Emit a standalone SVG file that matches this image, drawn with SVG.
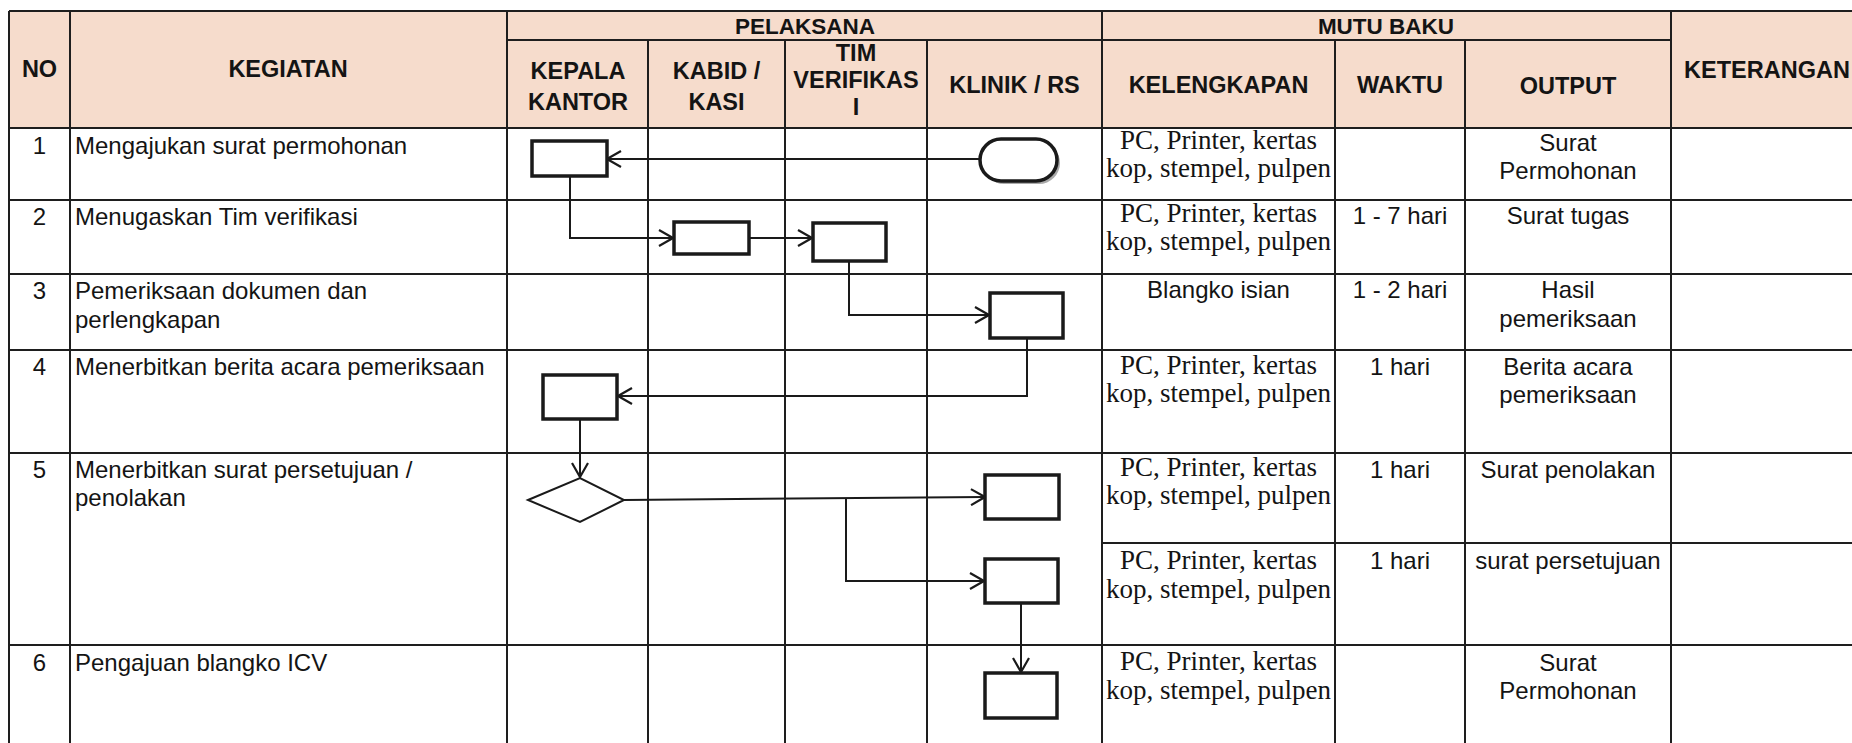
<svg xmlns="http://www.w3.org/2000/svg" width="1852" height="743" viewBox="0 0 1852 743">
<style>
.grid{stroke:#1e1e1e;stroke-width:2;fill:none}
.h{font-family:"Liberation Sans",Arial,sans-serif;font-weight:bold;font-size:23.5px;fill:#141414;text-anchor:middle}
.h2{font-size:22.5px}
.t{font-family:"Liberation Sans",Arial,sans-serif;font-size:24px;fill:#141414}
.c{text-anchor:middle}
.s{font-family:"Liberation Serif","Times New Roman",serif;font-size:27px;fill:#141414;text-anchor:middle}
.box{fill:#fff;stroke:#1a1a1a;stroke-width:3.5}
.con{fill:none;stroke:#1a1a1a;stroke-width:2}
</style>
<defs>
<marker id="arr" viewBox="0 0 16 18" refX="15" refY="9" markerWidth="16" markerHeight="18" markerUnits="userSpaceOnUse" orient="auto">
<path d="M1,1 L15,9 L1,17" fill="none" stroke="#1a1a1a" stroke-width="2.2"/>
</marker>
</defs>
<rect width="1852" height="743" fill="#fff"/>
<rect x="9" y="11" width="1871" height="117" fill="#f6dccc"/>
<g id="grid" class="grid">
<path d="M9,11H1880M507,40H1671M9,128H1880M9,200H1880M9,274H1880M9,350H1880M9,453H1880M1102,543H1880M9,645H1880"/>
<path d="M9,11V743M70,11V743M507,11V743M648,40V743M785,40V743M927,40V743M1102,11V743M1335,40V743M1465,40V743M1671,11V743"/>
</g>
<g id="header">
<text class="h" x="39.5" y="77">NO</text>
<text class="h" x="288" y="77">KEGIATAN</text>
<text class="h h2" x="805" y="34">PELAKSANA</text>
<text class="h h2" x="1386" y="34">MUTU BAKU</text>
<text class="h" x="578" y="79">KEPALA</text>
<text class="h" x="578" y="110">KANTOR</text>
<text class="h" x="716.5" y="79">KABID /</text>
<text class="h" x="716.5" y="110">KASI</text>
<text class="h" x="856" y="61">TIM</text>
<text class="h" x="856" y="88">VERIFIKAS</text>
<text class="h" x="856" y="115">I</text>
<text class="h" x="1014.5" y="93">KLINIK / RS</text>
<text class="h" x="1218.5" y="93">KELENGKAPAN</text>
<text class="h" x="1400" y="93">WAKTU</text>
<text class="h" x="1568" y="94">OUTPUT</text>
<text class="h" x="1767" y="78">KETERANGAN</text>
</g>
<g id="row1">
<text class="t c" x="39.5" y="154">1</text>
<text class="t" x="75" y="154">Mengajukan surat permohonan</text>
<text class="s" x="1218.5" y="149">PC, Printer, kertas</text>
<text class="s" x="1218.5" y="177">kop, stempel, pulpen</text>
<text class="t c" x="1568" y="151">Surat</text>
<text class="t c" x="1568" y="179">Permohonan</text>
</g>
<g id="row2">
<text class="t c" x="39.5" y="225">2</text>
<text class="t" x="75" y="225">Menugaskan Tim verifikasi</text>
<text class="s" x="1218.5" y="222">PC, Printer, kertas</text>
<text class="s" x="1218.5" y="250">kop, stempel, pulpen</text>
<text class="t c" x="1400" y="224">1 - 7 hari</text>
<text class="t c" x="1568" y="224">Surat tugas</text>
</g>
<g id="row3">
<text class="t c" x="39.5" y="299">3</text>
<text class="t" x="75" y="299">Pemeriksaan dokumen dan</text>
<text class="t" x="75" y="328">perlengkapan</text>
<text class="t c" x="1218.5" y="298">Blangko isian</text>
<text class="t c" x="1400" y="298">1 - 2 hari</text>
<text class="t c" x="1568" y="298">Hasil</text>
<text class="t c" x="1568" y="327">pemeriksaan</text>
</g>
<g id="row4">
<text class="t c" x="39.5" y="375">4</text>
<text class="t" x="75" y="375">Menerbitkan berita acara pemeriksaan</text>
<text class="s" x="1218.5" y="374">PC, Printer, kertas</text>
<text class="s" x="1218.5" y="402">kop, stempel, pulpen</text>
<text class="t c" x="1400" y="375">1 hari</text>
<text class="t c" x="1568" y="375">Berita acara</text>
<text class="t c" x="1568" y="403">pemeriksaan</text>
</g>
<g id="row5">
<text class="t c" x="39.5" y="478">5</text>
<text class="t" x="75" y="478">Menerbitkan surat persetujuan /</text>
<text class="t" x="75" y="506">penolakan</text>
<text class="s" x="1218.5" y="476">PC, Printer, kertas</text>
<text class="s" x="1218.5" y="504">kop, stempel, pulpen</text>
<text class="t c" x="1400" y="478">1 hari</text>
<text class="t c" x="1568" y="478">Surat penolakan</text>
<text class="s" x="1218.5" y="569">PC, Printer, kertas</text>
<text class="s" x="1218.5" y="598">kop, stempel, pulpen</text>
<text class="t c" x="1400" y="569">1 hari</text>
<text class="t c" x="1568" y="569">surat persetujuan</text>
</g>
<g id="row6">
<text class="t c" x="39.5" y="671">6</text>
<text class="t" x="75" y="671">Pengajuan blangko ICV</text>
<text class="s" x="1218.5" y="670">PC, Printer, kertas</text>
<text class="s" x="1218.5" y="699">kop, stempel, pulpen</text>
<text class="t c" x="1568" y="671">Surat</text>
<text class="t c" x="1568" y="699">Permohonan</text>
</g>
<g id="connectors" class="con">
<path d="M980,159H607" marker-end="url(#arr)"/>
<path d="M570,176V238H673" marker-end="url(#arr)"/>
<path d="M749,238H812" marker-end="url(#arr)"/>
<path d="M849,261V315H989" marker-end="url(#arr)"/>
<path d="M1027,338V396H618" marker-end="url(#arr)"/>
<path d="M580,419V477" marker-end="url(#arr)"/>
<path d="M624,500L985,497" marker-end="url(#arr)"/>
<path d="M846,499V581H984" marker-end="url(#arr)"/>
<path d="M1021,603V672" marker-end="url(#arr)"/>
</g>
<g id="n1a"><rect class="box" x="532" y="141" width="75" height="35"/></g>
<g id="n1b"><rect x="983" y="142" width="77" height="42" rx="21" fill="#555" opacity="0.5"/><rect class="box" x="980" y="139" width="77" height="42" rx="21"/></g>
<g id="n2a"><rect class="box" x="674" y="222" width="75" height="32"/></g>
<g id="n2b"><rect class="box" x="813" y="223" width="73" height="38"/></g>
<g id="n3"><rect class="box" x="990" y="293" width="73" height="45"/></g>
<g id="n4"><rect class="box" x="543" y="375" width="74" height="44"/></g>
<g id="n5d"><path d="M528,500L580,478L624,500L580,522Z" fill="#fff" stroke="#1a1a1a" stroke-width="2"/></g>
<g id="n5a"><rect class="box" x="985" y="475" width="74" height="44"/></g>
<g id="n5b"><rect class="box" x="985" y="559" width="73" height="44"/></g>
<g id="n6"><rect class="box" x="985" y="673" width="72" height="45"/></g>
</svg>
